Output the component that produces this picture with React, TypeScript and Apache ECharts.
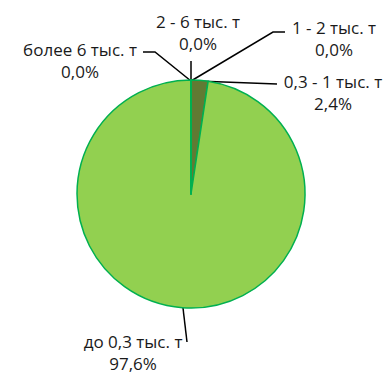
import React, { useEffect, useRef } from "react";
import * as echarts from "echarts";

const categories = ["0,3 - 1 тыс. т", "до 0,3 тыс. т", "более 6 тыс. т", "2 - 6 тыс. т", "1 - 2 тыс. т"];
const values = [2.4, 97.6, 0, 0, 0];
const colors = ["#617A33", "#92D050", "#92D050", "#92D050", "#92D050"];

// label placement (centre x, centre y, line points)
const labelSpots: Record<number, { x: number; y: number; line: number[][] }> = {
  0: { x: 333, y: 92, line: [[197, 81], [277, 84], [277, 84]] },
  1: { x: 133, y: 352, line: [[183, 308], [187, 342], [187, 342]] },
  2: { x: 80, y: 60, line: [[191, 81], [155, 52], [143, 52]] },
  3: { x: 198, y: 32, line: [[191, 81], [191, 61], [191, 61]] },
  4: { x: 334, y: 38, line: [[191, 81], [273, 32], [285, 32]] },
};

export default function App() {
  const ref = useRef<HTMLDivElement>(null);
  useEffect(() => {
    const chart = echarts.init(ref.current!, null, { renderer: "svg" });
    chart.setOption({
      animation: false,
      series: [
        {
          type: "pie",
          center: [191, 194],
          radius: 114,
          startAngle: 90,
          clockwise: true,
          minShowLabelAngle: -1,
          data: categories.map((c, i) => ({
            name: c,
            value: values[i],
            itemStyle: { color: colors[i] },
          })),
          itemStyle: { borderColor: "#00B050", borderWidth: 1.5 },
          label: {
            show: true,
            formatter: (p: any) => `${p.name}\n${p.percent.toFixed(1).replace(".", ",")}%`,
            fontFamily: "Open Sans",
            fontSize: 17,
            lineHeight: 22,
            color: "#1a1a1a",
            align: "center",
            overflow: "none",
            width: 200,
          },
          labelLine: { show: true, lineStyle: { color: "#000", width: 1.5 } },
          labelLayout: (params: any) => {
            const s = labelSpots[params.dataIndex];
            return {
              x: s.x,
              y: s.y,
              align: "center",
              verticalAlign: "middle",
              labelLinePoints: s.line,
            };
          },
          emphasis: { disabled: true },
        },
      ],
    });
    return () => chart.dispose();
  }, []);
  return (
    <div
      ref={ref}
      style={{ position: "absolute", left: 0, top: 0, width: 386, height: 374 }}
    />
  );
}
